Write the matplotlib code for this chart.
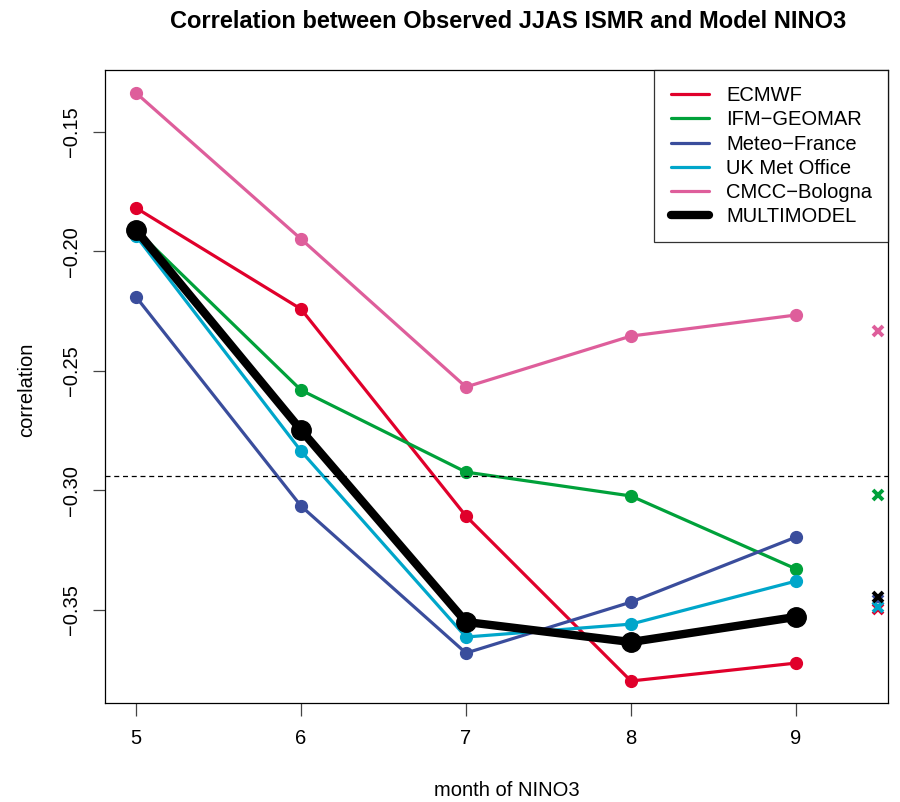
import numpy as np
import matplotlib
matplotlib.use("Agg")
import matplotlib.pyplot as plt

plt.rcParams['font.family'] = ['Liberation Sans', 'DejaVu Sans']

# ======================================
# DATA
# ======================================

months = [5, 6, 7, 8, 9]
models = ['ECMWF', 'IFM\u2212GEOMAR', 'Meteo\u2212France', 'UK Met Office', 'CMCC\u2212Bologna']
colors = ['#E0002B', '#00A13A', '#3A4D9C', '#00A6CA', '#DE5E9B']

ecmwf = [-0.1818, -0.2241, -0.3107, -0.3797, -0.3722]
ifm_geomar = [-0.1910, -0.2580, -0.2923, -0.3023, -0.3328]
meteo_france = [-0.2190, -0.3065, -0.3680, -0.3467, -0.3195]
uk_met = [-0.1935, -0.2835, -0.3613, -0.3559, -0.3379]
cmcc = [-0.1337, -0.1948, -0.2567, -0.2354, -0.2266]
multimodel = [-0.1910, -0.2747, -0.3550, -0.3634, -0.3529]

# correlation of the mean forecast, shown at the right edge
mean_x = 9.5
mean_corr = [-0.3496, -0.3019, -0.3460, -0.3487, -0.2333]
multimodel_mean = -0.3446

signif_level = -0.2941

series = [ecmwf, ifm_geomar, meteo_france, uk_met, cmcc]

# ======================================
# PLOT
# ======================================

fig = plt.figure(figsize=(9, 8.02), dpi=100)
ax = fig.add_axes([105/900, 1 - 703/802, (888 - 105)/900, (703 - 70)/802])

for name, vals, col in zip(models, series, colors):
    ax.plot(months, vals, color=col, lw=2.3, marker='o', ms=8.5,
            label=name, solid_capstyle='round')

ax.plot(months, multimodel, color='black', lw=6, marker='o', ms=14,
        label='MULTIMODEL', solid_capstyle='round')

for val, col in zip(mean_corr, colors):
    ax.plot(mean_x, val, marker='x', color=col, ms=7.5, mew=2.8, ls='none')
ax.plot(mean_x, multimodel_mean, marker='x', color='black', ms=7.5, mew=2.8, ls='none')

ax.axhline(signif_level, color='black', lw=0.9, ls=(0, (4, 3)))

ax.set_xlim(4.812, 9.558)
ax.set_ylim(-0.3889, -0.1241)
ax.set_xticks(months)
ax.set_yticks([-0.35, -0.30, -0.25, -0.20, -0.15])
ax.set_yticklabels(['\u22120.35', '\u22120.30', '\u22120.25', '\u22120.20', '\u22120.15'],
                   rotation=90, va='center')
ax.tick_params(axis='both', direction='out', length=9, width=0.9, labelsize=14.5,
               color='#444444')
ax.tick_params(axis='x', pad=10)
ax.tick_params(axis='y', pad=8)

for sp in ax.spines.values():
    sp.set_linewidth(0.9)

leg = ax.legend(loc='upper right', fontsize=14.5, frameon=True, fancybox=False,
                edgecolor='black', borderaxespad=0, handlelength=1.9,
                handletextpad=0.85, labelspacing=0.26, borderpad=0.8)
leg.get_frame().set_linewidth(0.9)
for line in leg.get_lines():
    line.set_marker('')

fig.text(508/900, 1 - 22/802, 'Correlation between Observed JJAS ISMR and Model NINO3',
         ha='center', va='center', fontsize=17, fontweight='bold')
fig.text(507/900, 1 - 790/802, 'month of NINO3', ha='center', va='center', fontsize=14.5)
fig.text(27/900, 1 - 390/802, 'correlation', ha='center', va='center',
         fontsize=14.5, rotation=90)

fig.savefig('out.png', dpi=100)
